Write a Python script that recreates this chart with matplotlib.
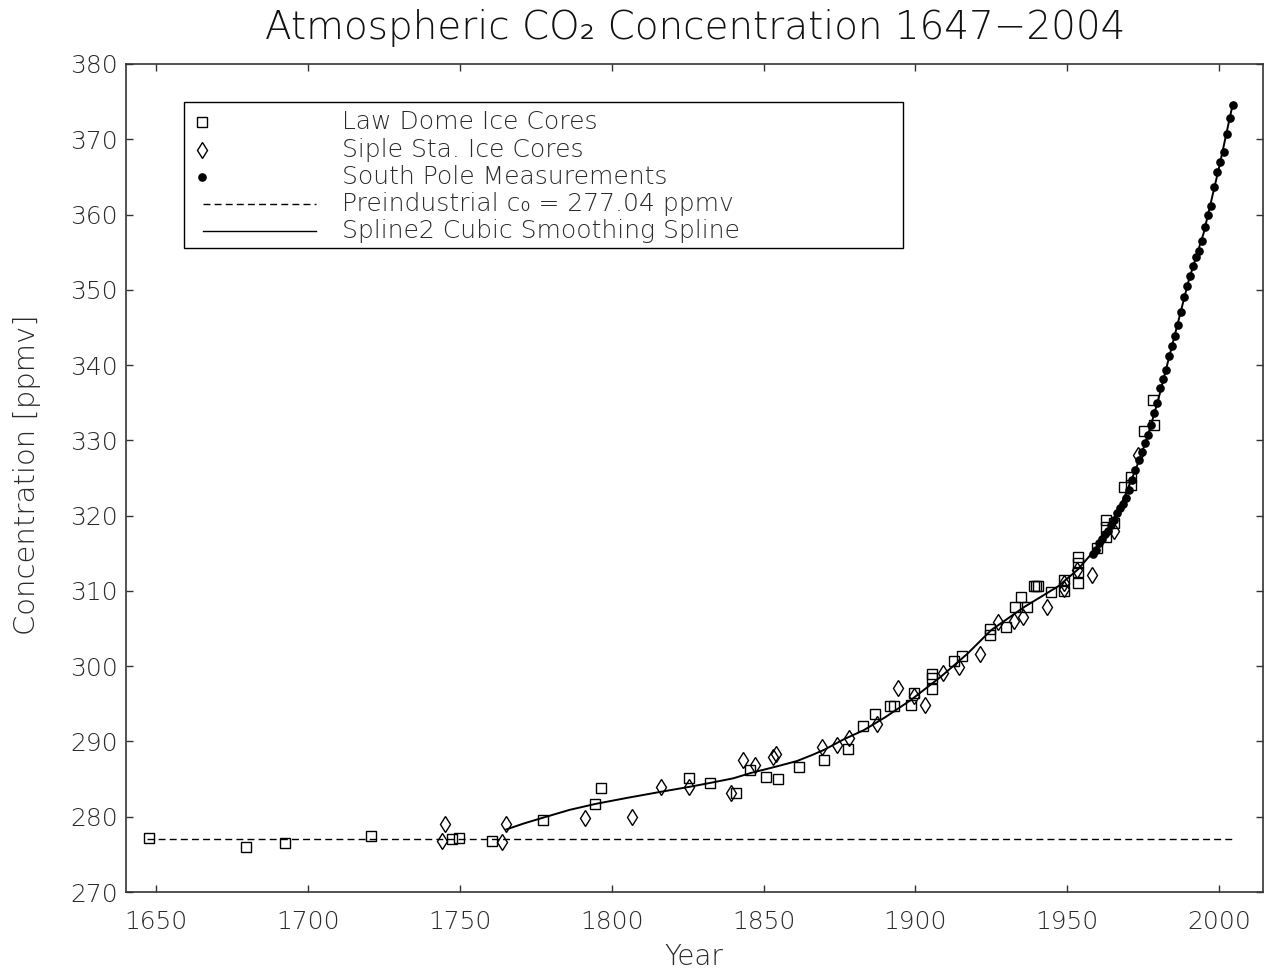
import matplotlib
matplotlib.use("Agg")
import matplotlib.pyplot as plt
from matplotlib.patches import Rectangle

# ---------------- data ----------------
law_year = [1647.6, 1679.6, 1692.4, 1720.8, 1747.5, 1749.8, 1760.7, 1777.5, 1794.6, 1796.6,
            1825.6, 1832.5, 1840.8, 1845.5, 1850.7, 1854.6, 1861.6, 1869.8, 1877.7, 1882.7,
            1886.6, 1891.5, 1893.0, 1898.5, 1899.6, 1905.6, 1905.6, 1905.6, 1912.6, 1915.5,
            1924.6, 1924.6, 1929.8, 1932.9, 1934.9, 1936.7, 1939.0, 1939.7, 1940.4, 1944.6,
            1948.8, 1948.8, 1953.6, 1953.6, 1953.6, 1953.6, 1959.7, 1962.8, 1962.8, 1962.8,
            1965.5, 1968.8, 1971.0, 1971.0, 1975.4, 1978.7, 1978.2]
law_co2 = [277.2, 276.0, 276.5, 277.5, 277.0, 277.2, 276.8, 279.6, 281.7, 283.8,
           285.1, 284.5, 283.1, 286.2, 285.3, 285.0, 286.6, 287.5, 289.0, 292.0,
           293.7, 294.7, 294.7, 294.8, 296.4, 299.0, 298.4, 297.0, 300.7, 301.3,
           304.9, 304.1, 305.2, 307.9, 309.2, 307.9, 310.6, 310.6, 310.6, 309.8,
           311.4, 310.0, 314.5, 313.7, 312.5, 311.1, 315.7, 319.4, 318.5, 317.2,
           319.0, 323.8, 325.1, 324.1, 331.3, 332.0, 335.3]

siple_year = [1744.2, 1745.2, 1764.0, 1765.3, 1791.3, 1806.7, 1816.3, 1825.4, 1839.2, 1843.2,
              1847.2, 1853.2, 1854.1, 1869.3, 1874.3, 1878.1, 1887.3, 1894.3, 1899.4, 1903.2,
              1909.2, 1914.4, 1921.3, 1927.1, 1932.4, 1935.3, 1943.2, 1949.0, 1949.0, 1953.2,
              1958.2, 1965.3, 1973.2]
siple_co2 = [276.8, 279.0, 276.7, 279.0, 279.8, 280.0, 284.0, 284.0, 283.1, 287.5,
             286.9, 288.0, 288.3, 289.3, 289.5, 290.4, 292.3, 297.1, 296.0, 294.8,
             299.1, 299.9, 301.6, 305.9, 306.0, 306.5, 307.9, 311.1, 310.3, 312.8,
             312.1, 317.9, 328.1]

sp_year = [1958.5, 1959.5, 1960.5, 1961.5, 1962.5, 1963.5, 1964.5, 1965.5, 1966.5, 1967.5,
           1968.5, 1969.5, 1970.5, 1971.5, 1972.5, 1973.5, 1974.5, 1975.5, 1976.5, 1977.5,
           1978.5, 1979.5, 1980.5, 1981.5, 1982.5, 1983.5, 1984.5, 1985.5, 1986.5, 1987.5,
           1988.5, 1989.5, 1990.5, 1991.5, 1992.5, 1993.5, 1994.5, 1995.5, 1996.5, 1997.5,
           1998.5, 1999.5, 2000.5, 2001.5, 2002.5, 2003.5, 2004.5]
sp_co2 = [314.9, 315.4, 316.3, 316.9, 317.5, 318.0, 318.7, 319.4, 320.4, 321.0,
          321.6, 322.3, 323.4, 324.7, 326.1, 327.4, 328.5, 329.6, 330.7, 332.0,
          333.7, 335.0, 336.9, 338.2, 339.4, 341.2, 342.6, 343.8, 345.3, 347.0,
          349.0, 350.5, 351.8, 353.1, 354.3, 355.2, 356.5, 358.4, 360.0, 361.2,
          363.7, 365.7, 367.0, 368.3, 370.7, 372.8, 374.6]

spline_year = [1765.2, 1771.0, 1777.6, 1786.0, 1794.6, 1805.0, 1816.0, 1826.0, 1832.5, 1840.0,
               1845.7, 1854.5, 1861.0, 1866.0, 1870.0, 1876.5, 1883.0, 1890.0, 1898.5, 1908.4,
               1917.0, 1925.0, 1936.0, 1947.0, 1953.4, 1961.0, 1965.0, 1969.0, 1973.0, 1976.5,
               1980.0, 1985.0, 1990.0, 1995.0, 2000.0, 2004.5]
spline_co2 = [278.3, 279.1, 279.9, 280.9, 281.7, 282.5, 283.3, 284.0, 284.5, 285.1,
              285.8, 286.7, 287.4, 288.2, 288.9, 290.3, 291.5, 293.2, 295.5, 298.6,
              301.6, 304.8, 307.9, 310.6, 312.8, 316.3, 319.2, 322.6, 326.6, 330.5,
              335.4, 343.3, 351.2, 357.6, 366.2, 374.6]

c0 = 277.04
c0_years = [1647, 2005]

x_ticks = [1650, 1700, 1750, 1800, 1850, 1900, 1950, 2000]
y_ticks = [270, 280, 290, 300, 310, 320, 330, 340, 350, 360, 370, 380]

title = "Atmospheric CO\u2082 Concentration 1647\u22122004"
legend_labels = ["Law Dome Ice Cores", "Siple Sta. Ice Cores", "South Pole Measurements",
                 "Preindustrial c\u2080 = 277.04 ppmv", "Spline2 Cubic Smoothing Spline"]

# ---------------- figure ----------------
plt.rcParams["font.family"] = ["DejaVu Sans"]
FW = 200
TXT = "#2a2a2a"

W, H = 1265, 972
fig = plt.figure(figsize=(W / 100, H / 100), dpi=100)
ax = fig.add_axes([126 / W, 80 / H, 1137 / W, 828 / H])

SQ = dict(ls="none", marker="s", ms=7.6, mfc="none", mec="k", mew=1.0)
DI = dict(ls="none", marker="d", ms=8.0, mfc="none", mec="k", mew=1.0)
DOT = dict(ls="none", marker="o", ms=5.2, color="k")

ax.plot(c0_years, [c0, c0], color="k", lw=1.0, ls=(0, (5, 3)), zorder=2)
ax.plot(spline_year, spline_co2, color="k", lw=1.4, zorder=3)
ax.plot(law_year, law_co2, zorder=4, **SQ)
ax.plot(siple_year, siple_co2, zorder=4, **DI)
ax.plot(sp_year, sp_co2, zorder=5, **DOT)

ax.set_xlim(1640, 2014.5)
ax.set_ylim(270, 380)
ax.set_xticks(x_ticks)
ax.set_yticks(y_ticks)
ax.tick_params(direction="in", length=5, width=1, top=True, right=True,
               labelsize=18, colors="#333333", labelcolor=TXT)
ax.tick_params(axis="x", pad=13)
ax.tick_params(axis="y", pad=6)
for lab in ax.get_xticklabels() + ax.get_yticklabels():
    lab.set_fontweight(FW)
for sp in ax.spines.values():
    sp.set_color("#333333")
    sp.set_linewidth(1.2)

# legend box (drawn in axes fractions)
ax.add_patch(Rectangle((0.051, 0.7778), 0.6324, 0.1763, transform=ax.transAxes,
                       facecolor="white", edgecolor="k", lw=1.0, zorder=6))
rows = [0.930, 0.8961, 0.8635, 0.8309, 0.7983]
mx = 0.0668
ax.plot([mx], [rows[0]], transform=ax.transAxes, zorder=7, **SQ)
ax.plot([mx], [rows[1]], transform=ax.transAxes, zorder=7, **DI)
ax.plot([mx], [rows[2]], transform=ax.transAxes, zorder=7, **DOT)
ax.plot([0.0677, 0.1671], [rows[3], rows[3]], transform=ax.transAxes, color="k", lw=1.0,
        ls=(0, (5, 3)), zorder=7)
ax.plot([0.0677, 0.1671], [rows[4], rows[4]], transform=ax.transAxes, color="k", lw=1.0, zorder=7)
for yy, lab in zip(rows, legend_labels):
    ax.text(0.19, yy, lab, transform=ax.transAxes, fontsize=18, fontweight=FW,
            color=TXT, ha="left", va="center", zorder=7)

fig.text(695 / W, 1 - 28 / H, title, fontsize=28, fontweight=FW, color="#111111",
         ha="center", va="center")
fig.text(27 / W, 1 - 475 / H, "Concentration [ppmv]", fontsize=21, fontweight=FW,
         color=TXT, rotation=90, ha="center", va="center")
fig.text(694 / W, 1 - 957 / H, "Year", fontsize=20, fontweight=FW, color=TXT,
         ha="center", va="center")

fig.savefig("out.png", dpi=100, facecolor="white")
